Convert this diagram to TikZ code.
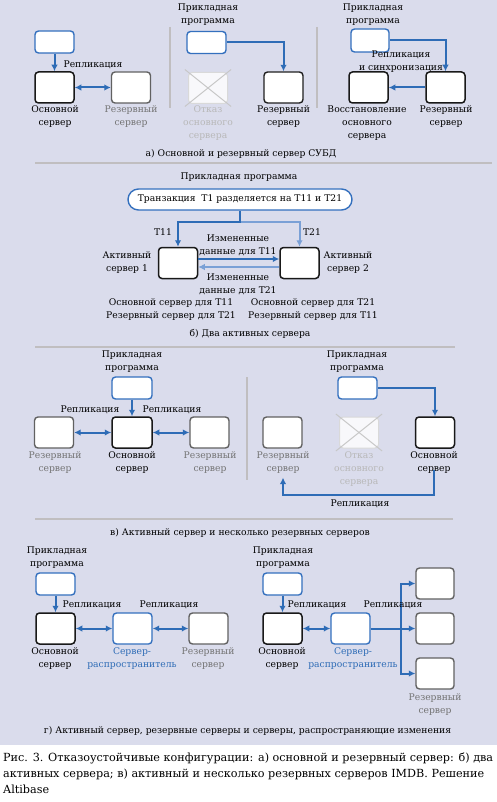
\documentclass[tikz,border=0pt]{standalone}
\usepackage{fontspec}
\setmainfont{DejaVu Serif}
\usetikzlibrary{arrows.meta}
\definecolor{bgc}{RGB}{218,220,236}
\definecolor{appblue}{RGB}{52,112,190}
\definecolor{linkblue}{RGB}{46,108,182}
\definecolor{lightlink}{RGB}{122,160,214}
\definecolor{sepc}{RGB}{192,190,192}
\newcommand\figfont{\fontsize{9.2}{13}\selectfont}
\newcommand\capfont{\fontsize{11.2}{16}\selectfont}
\begin{document}
\begin{tikzpicture}[x=1pt,y=-1pt,
  box/.style={rectangle, rounded corners=3.5pt, fill=white, minimum width=39pt, minimum height=31pt, inner sep=0pt},
  app/.style={box, draw=appblue, line width=1.4pt, minimum height=22pt},
  srv/.style={box, draw=black!90, line width=1.5pt},
  rsv/.style={box, draw=black!62, line width=1.4pt},
  dist/.style={box, draw=appblue, line width=1.4pt},
  fail/.style={box, draw=black!15, fill=white!80!bgc, line width=1pt},
  xline/.style={draw=black!22, line width=1pt, shorten <=-4pt, shorten >=-4pt},
  conn/.style={draw=linkblue, line width=2pt, -{Latex[length=6.5pt,width=6.5pt]}},
  lconn/.style={conn, draw=lightlink},
  dconn/.style={draw=linkblue, line width=2pt, {Latex[length=6.5pt,width=6.5pt]}-{Latex[length=6.5pt,width=6.5pt]}},
  txt/.style={font=\figfont, align=center, inner sep=0pt, text=black},
  gtxt/.style={txt, text=black!55},
  ftxt/.style={txt, text=black!28},
  btxt/.style={txt, text=linkblue},
  sepl/.style={draw=sepc, line width=1.2pt}]
\useasboundingbox (0,0) rectangle (497,802);
\fill[white] (0,0) rectangle (497,802);
\fill[bgc] (0,0) rectangle (497,745);

% ---------- panel a ----------
\node[app] (appA1) at (54.5,42) {};
\node[srv] (srvA1) at (54.5,87.5) {};
\node[rsv] (rsvA1) at (131,87.5) {};
\node[txt] (repA1) at (93,65) {Репликация};
\node[txt] (lA1) at (55,116.5) {Основной\\сервер};
\node[gtxt] (lA1r) at (131,116.5) {Резервный\\сервер};
\draw[conn] (appA1.south) -- (srvA1.north);
\draw[dconn] (srvA1.east) -- (rsvA1.west);
\draw[sepl] (170,27) -- (170,108);

\node[txt] (pA2) at (208,14.5) {Прикладная\\программа};
\node[app] (appA2) at (206.5,42.5) {};
\node[fail] (fA2) at (208,88) {};
\draw[xline] (fA2.north west) -- (fA2.south east);
\draw[xline] (fA2.south west) -- (fA2.north east);
\node[ftxt] (lfA2) at (208,123) {Отказ\\основного\\сервера};
\node[rsv, draw=black!88] (rsvA2) at (283.5,87.5) {};
\node[txt] (lA2r) at (283.5,116.5) {Резервный\\сервер};
\draw[conn] (appA2.east) -| (rsvA2.north);
\draw[sepl] (317,27) -- (317,108);

\node[txt] (pA3) at (373,14.5) {Прикладная\\программа};
\node[app, minimum width=38pt, minimum height=23pt] (appA3) at (370,40.5) {};
\node[srv] (recA3) at (368.5,87.5) {};
\node[srv] (rsvA3) at (445.5,87.5) {};
\node[txt] (repA3) at (401,61.5) {Репликация\\и синхронизация};
\draw[conn] (appA3.east) -| (rsvA3.north);
\draw[conn] (rsvA3.west) -- (recA3.east);
\node[txt] (lrecA3) at (367,123) {Восстановление\\основного\\сервера};
\node[txt] (lrsvA3) at (446,116.5) {Резервный\\сервер};
\node[txt] (capA) at (241,154) {а) Основной и резервный сервер СУБД};
\draw[sepl] (35,163) -- (492,163);

% ---------- panel b ----------
\node[txt] (pB) at (239,177) {Прикладная программа};
\node[rectangle, rounded corners=10.5pt, draw=appblue, line width=1.4pt, fill=white,
      minimum width=224pt, minimum height=21pt, inner sep=0pt, font=\figfont] (pill) at (240,199.5)
      {Транзакция\ \ T1 разделяется на T11 и T21};
\coordinate (split) at (240,222);
\node[srv] (act1) at (178,263) {};
\node[srv] (act2) at (299.5,263) {};
\draw[lconn] (split) -| (act2.north);
\draw[conn] (pill.south) -- (split) -| (act1.north);
\draw[conn] ([yshift=4pt]act1.east) -- ([yshift=4pt]act2.west);
\draw[lconn] ([yshift=-4pt]act2.west) -- ([yshift=-4pt]act1.east);
\node[txt] (t11) at (163,232) {T11};
\node[txt] (t21) at (312,232) {T21};
\node[txt] (ch11) at (238,245) {Измененные\\данные для T11};
\node[txt] (ch21) at (238,284) {Измененные\\данные для T21};
\node[txt] (la1) at (127,262.5) {Активный\\сервер 1};
\node[txt] (la2) at (348,262.5) {Активный\\сервер 2};
\node[txt] (ra1) at (171,309.5) {Основной сервер для T11\\Резервный сервер для T21};
\node[txt] (ra2) at (313,309.5) {Основной сервер для T21\\Резервный сервер для T11};
\node[txt] (capB) at (250,334) {б) Два активных сервера};
\draw[sepl] (35,347) -- (455,347);

% ---------- panel v ----------
\node[txt] (pV1) at (132,361.5) {Прикладная\\программа};
\node[app, minimum width=40pt] (appV1) at (132,388) {};
\node[srv, minimum width=40pt] (srvV1) at (132,432.5) {};
\node[rsv] (rsvV1l) at (54,432.5) {};
\node[rsv] (rsvV1r) at (209.5,432.5) {};
\draw[conn] (appV1.south) -- (srvV1.north);
\draw[dconn] (rsvV1l.east) -- (srvV1.west);
\draw[dconn] (srvV1.east) -- (rsvV1r.west);
\node[txt] (repV1l) at (90,410) {Репликация};
\node[txt] (repV1r) at (172,410) {Репликация};
\node[gtxt] (lV1l) at (55,462.5) {Резервный\\сервер};
\node[txt] (lV1m) at (132,462.5) {Основной\\сервер};
\node[gtxt] (lV1r) at (210,462.5) {Резервный\\сервер};
\draw[sepl] (247,377) -- (247,480);

\node[txt] (pV2) at (357,361.5) {Прикладная\\программа};
\node[app] (appV2) at (357.5,388) {};
\node[rsv] (rsvV2) at (282.5,432.5) {};
\node[fail] (fV2) at (359,432.5) {};
\draw[xline] (fV2.north west) -- (fV2.south east);
\draw[xline] (fV2.south west) -- (fV2.north east);
\node[srv] (srvV2) at (435,432.5) {};
\draw[conn] (appV2.east) -| (srvV2.north);
\node[gtxt] (lV2r) at (283,462.5) {Резервный\\сервер};
\node[ftxt] (lV2f) at (359,469) {Отказ\\основного\\сервера};
\node[txt] (lV2s) at (434,462.5) {Основной\\сервер};
\draw[conn, shorten <=-4pt, shorten >=4pt] (lV2s.south) -- ++(0,21) -| (lV2r.south);
\node[txt] (repV2) at (360,504) {Репликация};
\draw[sepl] (35,519) -- (453,519);
\node[txt] (capV) at (240,533) {в) Активный сервер и несколько резервных серверов};

% ---------- panel g ----------
\node[txt] (pG1) at (57,557.5) {Прикладная\\программа};
\node[app] (appG1) at (55.5,584) {};
\node[srv] (srvG1) at (55.5,628.5) {};
\node[dist] (distG1) at (132.5,628.5) {};
\node[rsv] (rsvG1) at (208.5,628.5) {};
\draw[conn] (appG1.south) -- (srvG1.north);
\draw[dconn] (srvG1.east) -- (distG1.west);
\draw[dconn] (distG1.east) -- (rsvG1.west);
\node[txt] (repG1a) at (92,605) {Репликация};
\node[txt] (repG1b) at (169,605) {Репликация};
\node[txt] (lG1s) at (55,659) {Основной\\сервер};
\node[btxt] (lG1d) at (132,659) {Сервер-\\распространитель};
\node[gtxt] (lG1r) at (208,659) {Резервный\\сервер};

\node[txt] (pG2) at (283,557.5) {Прикладная\\программа};
\node[app] (appG2) at (282.5,584) {};
\node[srv] (srvG2) at (282.5,628.5) {};
\node[dist] (distG2) at (350.5,628.5) {};
\node[rsv, minimum width=38pt] (rT) at (435,583.5) {};
\node[rsv, minimum width=38pt] (rM) at (435,628.5) {};
\node[rsv, minimum width=38pt] (rB) at (435,673.5) {};
\draw[conn] (appG2.south) -- (srvG2.north);
\draw[dconn] (srvG2.east) -- (distG2.west);
\draw[conn] (distG2.east) -- (rM.west);
\coordinate (bus) at (401,628.5);
\draw[conn] (bus) |- (rT.west);
\draw[conn] (bus) |- (rB.west);
\node[txt] (repG2a) at (317,605) {Репликация};
\node[txt] (repG2b) at (393,605) {Репликация};
\node[txt] (lG2s) at (282,659) {Основной\\сервер};
\node[btxt] (lG2d) at (353,659) {Сервер-\\распространитель};
\node[gtxt] (lG2r) at (435,705) {Резервный\\сервер};
\node[txt] (capG) at (247.5,731) {г) Активный сервер, резервные серверы и серверы, распространяющие изменения};

% ---------- caption ----------
\node[font=\capfont, align=left, inner sep=0pt, anchor=north west] (cap) at (3,753)
  {Рис. 3. Отказоустойчивые конфигурации: а) основной и резервный сервер: б) два\\
   активных сервера; в) активный и несколько резервных серверов IMDB. Решение\\
   Altibase};
\end{tikzpicture}
\end{document}
